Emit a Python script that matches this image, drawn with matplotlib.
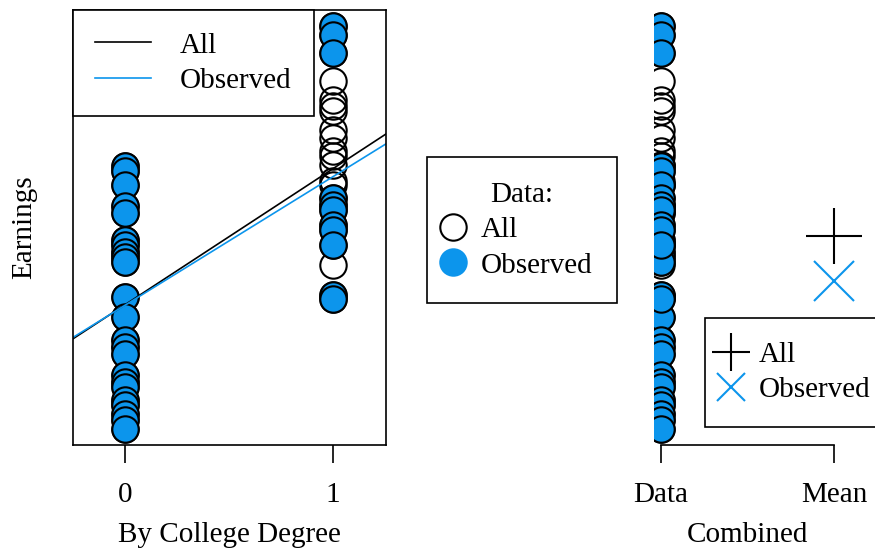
import matplotlib
matplotlib.use("Agg")
import matplotlib.pyplot as plt
from matplotlib.lines import Line2D
import numpy as np

plt.rcParams['font.family'] = ['Liberation Serif', 'DejaVu Serif']
plt.rcParams['font.size'] = 21

BLUE = '#0c95ec'

# earnings without a college degree (every value observed)
earn_no_degree = [56.4, 55.4, 52.6, 48.4, 47.0, 41.4, 40.4, 39.0, 38.0, 37.0, 30.0, 26.0,
                  21.4, 20.0, 18.6, 14.4, 13.0, 12.0, 9.4, 8.4, 6.6, 5.4, 3.6]
# earnings with a degree, split into observed and missing values
earn_degree_obs = [84.4, 82.6, 79.0, 50.0, 48.6, 47.6, 44.6, 43.4, 40.4, 30.4, 29.6]
earn_degree_missing = [73.4, 69.6, 68.4, 67.4, 63.6, 62.0, 59.4, 58.4, 56.6, 53.4, 52.6, 36.4]

# regression lines (intercept, slope) and means
fit_all = (28.5, 27.3)
fit_obs = (28.4, 25.8)
mean_all = 42.2
mean_obs = 33.2

degree_ticks = [0, 1]
combined_labels = ['Data', 'Mean']

# arrays for plotting
x_all = np.r_[np.zeros(len(earn_no_degree)), np.ones(len(earn_degree_obs) + len(earn_degree_missing))]
y_all = np.r_[earn_no_degree, earn_degree_obs, earn_degree_missing]
x_obs = np.r_[np.zeros(len(earn_no_degree)), np.ones(len(earn_degree_obs))]
y_obs = np.r_[earn_no_degree, earn_degree_obs]

lo, hi = y_all.min(), y_all.max()
pad = 0.04 * (hi - lo)
ylim = (lo - pad, hi + pad)

W, H = 875, 549
fig = plt.figure(figsize=(W / 100, H / 100), dpi=100)
ax1 = fig.add_axes([73 / W, 1 - 445 / H, (386 - 73) / W, (445 - 10) / H])
ax2 = fig.add_axes([654 / W, 1 - 445 / H, (841 - 654) / W, (445 - 10) / H])

ms = 19
mew = 1.5
lw_box = 1.2

# --- by college degree ---
ax1.plot(x_all, y_all, 'o', ms=ms, mfc='none', mec='black', mew=mew)
ax1.plot(x_obs, y_obs, 'o', ms=ms, mfc=BLUE, mec='black', mew=mew)
ax1.axline((0, fit_all[0]), slope=fit_all[1], color='black', lw=1.2)
ax1.axline((0, fit_obs[0]), slope=fit_obs[1], color=BLUE, lw=1.2)
ax1.set_xlim(-0.25, 1.255)
ax1.set_ylim(*ylim)
ax1.set_xticks(degree_ticks)
ax1.set_xticklabels([str(t) for t in degree_ticks])
ax1.set_yticks([])
ax1.tick_params(axis='x', length=13, width=lw_box, pad=14)
for s in ax1.spines.values():
    s.set_linewidth(lw_box)
ax1.set_xlabel('By College Degree', labelpad=10)
ax1.set_ylabel('Earnings', labelpad=26)

line_handles = [Line2D([], [], color='black', lw=1.2),
                Line2D([], [], color=BLUE, lw=1.2)]
leg1 = ax1.legend(line_handles, ['All', 'Observed'], loc='upper left', borderaxespad=0,
                  fancybox=False, edgecolor='black', framealpha=1, handlelength=1.9,
                  handletextpad=1.0, borderpad=0.76, labelspacing=0.31)
leg1.get_frame().set_linewidth(lw_box)

# --- combined ---
ax2.plot(np.ones(len(y_all)), y_all, 'o', ms=ms, mfc='none', mec='black', mew=mew)
ax2.plot(np.ones(len(y_obs)), y_obs, 'o', ms=ms, mfc=BLUE, mec='black', mew=mew)
ax2.plot([2], [mean_all], '+', ms=41, mec='black', mew=1.5, clip_on=False)
ax2.plot([2], [mean_obs], 'x', ms=29, mec=BLUE, mew=1.5, clip_on=False)
ax2.set_xlim(0.96, 2.04)
ax2.set_ylim(*ylim)
ax2.set_xticks([1, 2])
ax2.set_xticklabels(combined_labels)
ax2.set_yticks([])
ax2.tick_params(axis='x', length=13, width=lw_box, pad=14)
for side in ['top', 'right', 'left']:
    ax2.spines[side].set_visible(False)
ax2.spines['bottom'].set_bounds(1, 2)
ax2.spines['bottom'].set_linewidth(lw_box)
ax2.set_xlabel('Combined', labelpad=10)
ax2.patch.set_visible(False)

mean_handles = [Line2D([], [], ls='none', marker='+', ms=27, mec='black', mew=1.5),
                Line2D([], [], ls='none', marker='x', ms=20, mec=BLUE, mew=1.5)]
leg3 = fig.legend(mean_handles, ['All', 'Observed'], loc='upper left',
                  bbox_to_anchor=(705 / W, 1 - 318 / H), borderaxespad=0,
                  fancybox=False, edgecolor='black', framealpha=1, handlelength=0.2,
                  handletextpad=0.83, borderpad=0.8, labelspacing=0.31)
leg3.get_frame().set_linewidth(lw_box)

# --- data legend between the panels ---
point_handles = [Line2D([], [], ls='none', marker='o', ms=ms, mfc='none', mec='black', mew=mew),
                 Line2D([], [], ls='none', marker='o', ms=ms, mfc=BLUE, mec=BLUE, mew=mew)]
leg2 = fig.legend(point_handles, ['All', 'Observed'], title='Data:', title_fontsize=21,
                  loc='upper left', bbox_to_anchor=(427 / W, 1 - 157 / H), borderaxespad=0,
                  fancybox=False, edgecolor='black', framealpha=1, handlelength=0.09,
                  handletextpad=0.89, borderpad=0.85, labelspacing=0.31)
leg2.get_frame().set_linewidth(lw_box)

fig.savefig('out.png', dpi=100)
